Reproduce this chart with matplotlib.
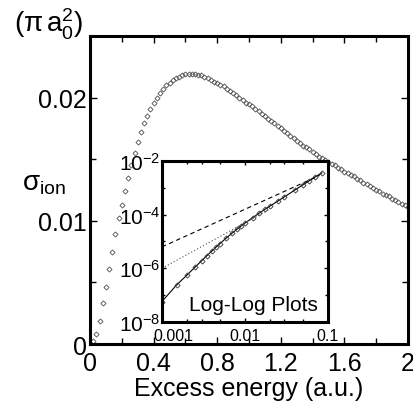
import matplotlib
matplotlib.use("Agg")
import matplotlib.pyplot as plt
import matplotlib.transforms as mtransforms
from matplotlib.ticker import MultipleLocator, FixedLocator, NullFormatter

plt.rcParams['font.family'] = ['Liberation Sans', 'DejaVu Sans']
plt.rcParams['mathtext.fontset'] = 'custom'
plt.rcParams['mathtext.rm'] = 'Liberation Sans'
plt.rcParams['mathtext.it'] = 'Liberation Sans:italic'

# main curve: cross section vs excess energy (a.u.)
energy = [0.02, 0.04, 0.06, 0.08, 0.10, 0.12, 0.14, 0.16, 0.18, 0.20,
          0.22, 0.24, 0.26, 0.28, 0.30, 0.32, 0.34, 0.36, 0.38, 0.40,
          0.42, 0.44, 0.46, 0.48, 0.50, 0.52, 0.54, 0.56, 0.58, 0.60,
          0.62, 0.64, 0.66, 0.68, 0.70, 0.72, 0.74, 0.76, 0.78, 0.80,
          0.82, 0.84, 0.86, 0.88, 0.90, 0.92, 0.94, 0.96, 0.98, 1.00,
          1.02, 1.04, 1.06, 1.08, 1.10, 1.12, 1.14, 1.16, 1.18, 1.20,
          1.22, 1.24, 1.26, 1.28, 1.30, 1.32, 1.34, 1.36, 1.38, 1.40,
          1.42, 1.44, 1.46, 1.48, 1.50, 1.52, 1.54, 1.56, 1.58, 1.60,
          1.62, 1.64, 1.66, 1.68, 1.70, 1.72, 1.74, 1.76, 1.78, 1.80,
          1.82, 1.84, 1.86, 1.88, 1.90, 1.92, 1.94, 1.96, 1.98, 2.00]
sigma = [0.00022, 0.00085, 0.0019, 0.0033, 0.0046, 0.0061, 0.0075, 0.0089, 0.0102, 0.0113,
         0.0124, 0.0135, 0.0145, 0.0155, 0.0164, 0.0172, 0.0179, 0.0185, 0.0191, 0.0196,
         0.0200, 0.0204, 0.0207, 0.0210, 0.0212, 0.0214, 0.0216, 0.0217, 0.0218, 0.0219,
         0.0219, 0.0219, 0.0219, 0.0218, 0.0218, 0.0217, 0.0216, 0.0214, 0.0213, 0.0212,
         0.0210, 0.0209, 0.0207, 0.0205, 0.0204, 0.0202, 0.0200, 0.0198, 0.0196, 0.0195,
         0.0193, 0.0191, 0.0189, 0.0187, 0.0185, 0.0183, 0.0181, 0.0179, 0.0177, 0.0175,
         0.0173, 0.0171, 0.0169, 0.0167, 0.0165, 0.0163, 0.0161, 0.0160, 0.0158, 0.0156,
         0.0154, 0.0152, 0.0151, 0.0149, 0.0148, 0.0146, 0.0145, 0.0143, 0.0142, 0.0140,
         0.0139, 0.0137, 0.0136, 0.0134, 0.0133, 0.0131, 0.0130, 0.0128, 0.0127, 0.0125,
         0.0124, 0.0122, 0.0121, 0.0120, 0.0118, 0.0117, 0.0115, 0.0114, 0.0113, 0.0111]

# inset: low-energy data on log-log scale
low_e = [0.001, 0.0015, 0.002, 0.0025, 0.003, 0.0035, 0.004, 0.0045, 0.005, 0.006,
         0.007, 0.008, 0.009, 0.01, 0.0125, 0.015, 0.0175, 0.02, 0.025, 0.03,
         0.04, 0.05, 0.06, 0.07, 0.085]
low_sigma = [5.8e-8, 2.4e-7, 5.6e-7, 1.1e-6, 1.9e-6, 3.0e-6, 4.4e-6, 6.2e-6, 8.3e-6, 1.36e-5,
             2.03e-5, 2.83e-5, 3.76e-5, 4.8e-5, 7.8e-5, 1.15e-4, 1.58e-4, 2.06e-4, 3.2e-4, 4.6e-4,
             8.2e-4, 1.28e-3, 1.84e-3, 2.5e-3, 3.6e-3]

# power-law guide lines in the inset
dash_e = [0.001, 0.08]
dash_sigma = [6.3e-6, 2.9e-3]
dot_e = [0.001, 0.02]
dot_sigma = [1.0e-6, 1.6e-4]

fig = plt.figure(figsize=(4.14, 4.10), dpi=100)
ax = fig.add_axes([0.2174, 0.1585, 0.7681, 0.7513])

ax.plot(energy, sigma, linestyle='none', marker='D', markersize=2.6,
        markerfacecolor='none', markeredgecolor='0.3', markeredgewidth=0.6)
ax.set_xlim(0, 2)
ax.set_ylim(0, 0.025)
ax.xaxis.set_major_locator(FixedLocator([0, 0.4, 0.8, 1.2, 1.6, 2.0]))
ax.set_xticklabels(['0', '0.4', '0.8', '1.2', '1.6', '2'])
ax.xaxis.set_minor_locator(MultipleLocator(0.2))
ax.yaxis.set_major_locator(FixedLocator([0, 0.01, 0.02]))
ax.set_yticklabels(['0', '0.01', '0.02'])
ax.yaxis.set_minor_locator(MultipleLocator(0.005))
ax.tick_params(which='both', direction='in', top=True, right=True, width=1.0)
ax.tick_params(which='major', length=5, labelsize=18)
ax.tick_params(axis='x', pad=5)
ax.tick_params(axis='y', pad=2)
ax.tick_params(which='minor', length=4)
for s in ax.spines.values():
    s.set_linewidth(2.2)
ax.set_xlabel('Excess energy (a.u.)', fontsize=18, labelpad=1)

fig.text(0.052, 0.55, r'$\mathrm{\sigma}_{\mathrm{ion}}$', fontsize=20, ha='left', va='center')
fig.text(0.034, 0.94, r'$\mathrm{(\pi\,a_0^2)}$', fontsize=20, ha='left', va='center')

# inset
ins = fig.add_axes([0.3913, 0.2122, 0.4002, 0.3927])
ins.set_xscale('log')
ins.set_yscale('log')
ins.plot(low_e, low_sigma, color='black', linewidth=0.8, marker='D', markersize=2.6,
         markerfacecolor='none', markeredgecolor='0.2', markeredgewidth=0.6)
ins.plot(dash_e, dash_sigma, color='black', linewidth=0.8, linestyle=(0, (4, 3)))
ins.plot(dot_e, dot_sigma, color='0.3', linewidth=0.8, linestyle=(0, (1, 2)))
ins.set_xlim(0.001, 0.1)
ins.set_ylim(1e-8, 1e-2)
ins.xaxis.set_major_locator(FixedLocator([0.001, 0.01, 0.1]))
ins.set_xticklabels(['0.001', '0.01', '0.1'])
ins.xaxis.set_minor_locator(FixedLocator([0.002, 0.003, 0.005, 0.02, 0.03, 0.05]))
ins.xaxis.set_minor_formatter(NullFormatter())
ins.yaxis.set_major_locator(FixedLocator([1e-8, 1e-6, 1e-4, 1e-2]))
ins.set_yticklabels([r'$10^{-8}$', r'$10^{-6}$', r'$10^{-4}$', r'$10^{-2}$'])
ins.yaxis.set_minor_locator(FixedLocator([1e-7, 1e-5, 1e-3]))
ins.yaxis.set_minor_formatter(NullFormatter())
ins.tick_params(which='both', direction='in', top=True, right=True, width=1.0)
ins.tick_params(which='major', length=3)
ins.tick_params(which='minor', length=2)
ins.tick_params(axis='x', labelsize=11.5, pad=4)
ins.tick_params(axis='y', labelsize=15, pad=1)
for s in ins.spines.values():
    s.set_linewidth(2.2)
ins.text(0.94, 0.11, 'Log-Log Plots', transform=ins.transAxes, fontsize=15,
         ha='right', va='center')

# nudge the first inset x label to the right, as in the reference
shift = mtransforms.ScaledTranslation(8 / 72, 0, fig.dpi_scale_trans)
first = ins.get_xticklabels()[0]
first.set_transform(first.get_transform() + shift)

fig.savefig('out.png', dpi=100)
